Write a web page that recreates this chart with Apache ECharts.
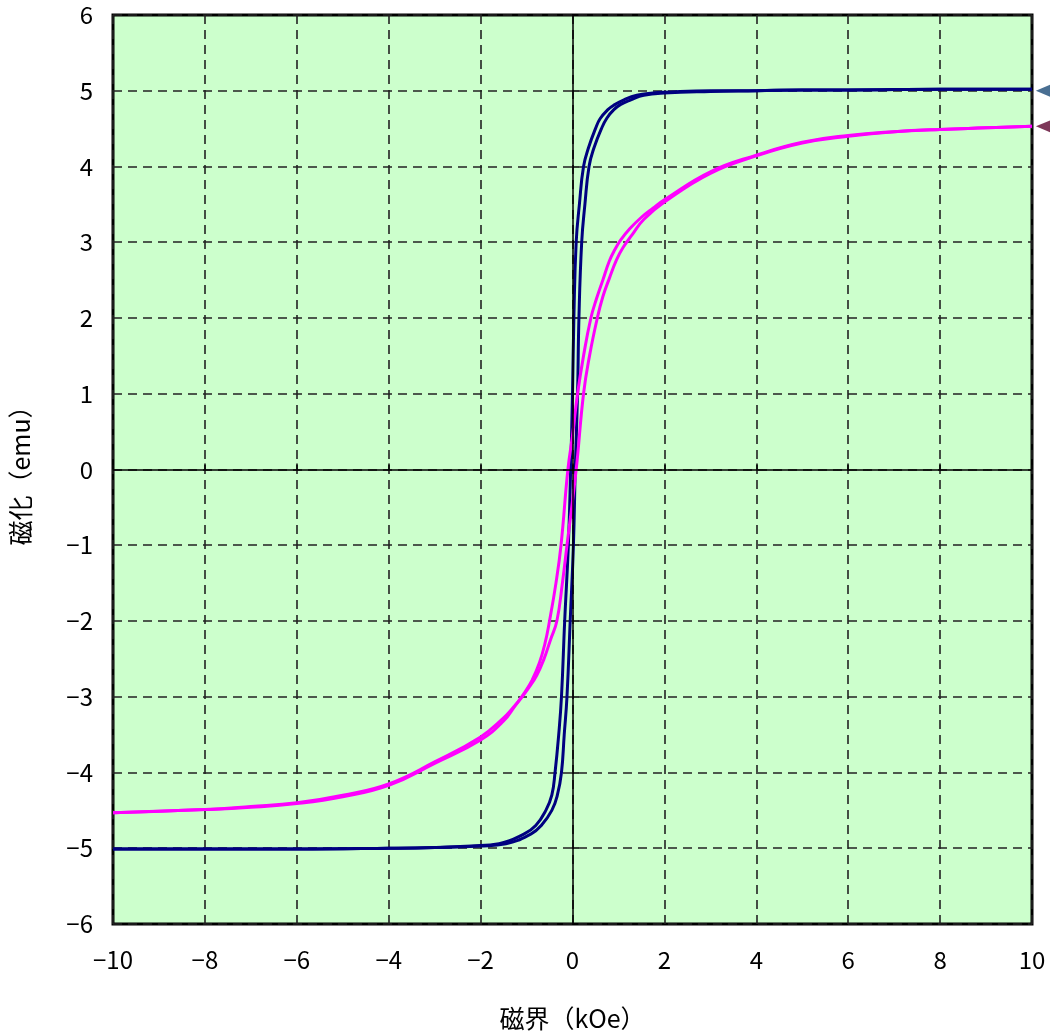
<!DOCTYPE html>
<html>
<head>
<meta charset="utf-8">
<script src="https://cdn.jsdelivr.net/npm/echarts@6/dist/echarts.min.js"></script>
<style>
html,body{margin:0;padding:0;background:#fff;}
#chart{width:1050px;height:1036px;}
</style>
</head>
<body>
<div id="chart"></div>
<script>
// Blue loop (descending branch: +10 -> -10)
const blueDownH = [10, 8, 6, 5, 4, 3, 2, 1.75, 1.4, 1.12, 0.9, 0.77, 0.6, 0.5, 0.35, 0.24, 0.15, 0.08, 0.03, 0.0, -0.04, -0.09, -0.17, -0.24, -0.3, -0.38, -0.45, -0.58, -0.8, -1.05, -1.6, -2.2, -3, -4, -6, -8, -10];
const blueDownM = [5.02, 5.02, 5.01, 5.01, 5.0, 5.0, 4.98, 4.97, 4.94, 4.88, 4.81, 4.75, 4.63, 4.5, 4.25, 4.0, 3.5, 3.0, 2.0, 1.0, 0, -1.0, -2.0, -3.0, -3.5, -4.0, -4.3, -4.5, -4.7, -4.81, -4.94, -4.97, -4.99, -5.0, -5.01, -5.01, -5.01];
// Blue loop (ascending branch: -10 -> +10)
const blueUpH = [-10, -8, -6, -4, -3, -2, -1.45, -0.9, -0.68, -0.45, -0.33, -0.24, -0.18, -0.12, -0.05, 0.02, 0.06, 0.11, 0.14, 0.2, 0.27, 0.36, 0.47, 0.63, 0.75, 0.9, 1.05, 1.27, 1.55, 2.0, 3, 4, 5, 6, 8, 10];
const blueUpM = [-5.01, -5.01, -5.01, -5.0, -4.99, -4.97, -4.94, -4.81, -4.7, -4.5, -4.3, -4.0, -3.5, -3.0, -2.0, -1.0, 0, 1.0, 2.0, 3.0, 3.5, 4.0, 4.25, 4.5, 4.64, 4.75, 4.82, 4.88, 4.94, 4.97, 4.99, 5.0, 5.01, 5.01, 5.02, 5.02];
// Magenta loop (descending branch)
const magDownH = [10, 9, 8, 7, 6, 5, 4, 3, 2, 1.75, 1.5, 1.25, 1.05, 0.92, 0.8, 0.66, 0.52, 0.4, 0.24, 0.11, 0.0, -0.1, -0.25, -0.36, -0.5, -0.6, -0.72, -0.88, -1.05, -1.25, -1.5, -2, -3, -4, -5, -6, -7, -8, -10];
const magDownM = [4.53, 4.51, 4.49, 4.46, 4.41, 4.32, 4.15, 3.93, 3.56, 3.45, 3.33, 3.18, 3.03, 2.9, 2.75, 2.5, 2.25, 2.0, 1.5, 1.0, 0.45, 0, -1.0, -1.5, -2.0, -2.3, -2.55, -2.78, -2.95, -3.12, -3.32, -3.57, -3.88, -4.17, -4.32, -4.41, -4.46, -4.49, -4.53];
// Magenta loop (ascending branch)
const magUpH = [-10, -8, -7, -6, -5, -4, -3, -2, -1.5, -1.3, -1.12, -0.95, -0.78, -0.62, -0.48, -0.34, -0.22, -0.12, 0.08, 0.24, 0.37, 0.54, 0.66, 0.8, 0.96, 1.1, 1.3, 1.55, 2, 3, 4, 5, 6, 7, 8, 9, 10];
const magUpM = [-4.53, -4.49, -4.45, -4.40, -4.30, -4.15, -3.86, -3.53, -3.28, -3.15, -3.02, -2.88, -2.72, -2.5, -2.25, -2.0, -1.5, -1.0, 0, 1.0, 1.5, 2.0, 2.28, 2.52, 2.77, 2.93, 3.1, 3.3, 3.53, 3.91, 4.14, 4.31, 4.40, 4.46, 4.49, 4.51, 4.53];
// Right-edge arrow markers
const markerH = [10.28, 10.28];
const markerM = [5.0, 4.53];
const markerColors = ['#1c4b77', '#5e0630'];
// Axis ticks
const xTicks = [-10, -8, -6, -4, -2, 0, 2, 4, 6, 8, 10];
const yTicks = [-6, -5, -4, -3, -2, -1, 0, 1, 2, 3, 4, 5, 6];

const zip = (a, b) => a.map((v, i) => [v, b[i]]);
const fmt = v => String(v).replace('-', '\u2212');
const FONT = '"Noto Sans CJK JP", "Noto Sans", sans-serif';

function lineSeries(h, m, color) {
  return {
    type: 'line', data: zip(h, m), showSymbol: false, smooth: 0.45,
    lineStyle: { color: color, width: 3 }, z: 3, silent: true
  };
}

const chart = echarts.init(document.getElementById('chart'));
chart.setOption({
  animation: false,
  grid: {
    left: 111, right: 18, top: 15, bottom: 109,
    show: true, backgroundColor: '#ccffcc', borderColor: '#000', borderWidth: 3
  },
  xAxis: {
    type: 'value', min: xTicks[0], max: xTicks[xTicks.length - 1], interval: 2,
    name: '磁界（kOe）', nameLocation: 'middle', nameGap: 82,
    nameTextStyle: { fontSize: 25, color: '#000', fontFamily: FONT },
    axisLine: { show: false },
    axisTick: { show: true, inside: true, length: 6, lineStyle: { color: '#000', width: 1.5 } },
    axisLabel: { formatter: fmt, fontSize: 24, color: '#000', margin: 24, fontFamily: FONT },
    splitLine: { show: true, lineStyle: { color: '#222', type: [9, 6], width: 1.6 } }
  },
  yAxis: {
    type: 'value', min: yTicks[0], max: yTicks[yTicks.length - 1], interval: 1,
    name: '磁化（emu）', nameLocation: 'middle', nameGap: 80, nameRotate: 90,
    nameTextStyle: { fontSize: 25, color: '#000', fontFamily: FONT },
    axisLine: { show: false },
    axisTick: { show: true, inside: true, length: 6, lineStyle: { color: '#000', width: 1.5 } },
    axisLabel: { formatter: fmt, fontSize: 24, color: '#000', margin: 20, fontFamily: FONT },
    splitLine: { show: true, lineStyle: { color: '#222', type: [9, 6], width: 1.6 } }
  },
  series: [
    {
      type: 'line', data: [], silent: true,
      markLine: {
        silent: true, symbol: 'none', animation: false,
        label: { show: false },
        lineStyle: { color: '#000', type: 'solid', width: 1.5 },
        data: [{ xAxis: 0 }, { yAxis: 0 }]
      }
    },
    lineSeries(blueDownH, blueDownM, '#000080'),
    lineSeries(blueUpH, blueUpM, '#000080'),
    lineSeries(magDownH, magDownM, '#ff00ff'),
    lineSeries(magUpH, magUpM, '#ff00ff'),
    {
      type: 'scatter', clip: false, silent: true, z: 5,
      symbol: 'triangle', symbolRotate: 90, symbolSize: [15, 18],
      data: zip(markerH, markerM).map((p, i) => ({ value: p, itemStyle: { color: markerColors[i] } }))
    }
  ]
});
</script>
</body>
</html>
